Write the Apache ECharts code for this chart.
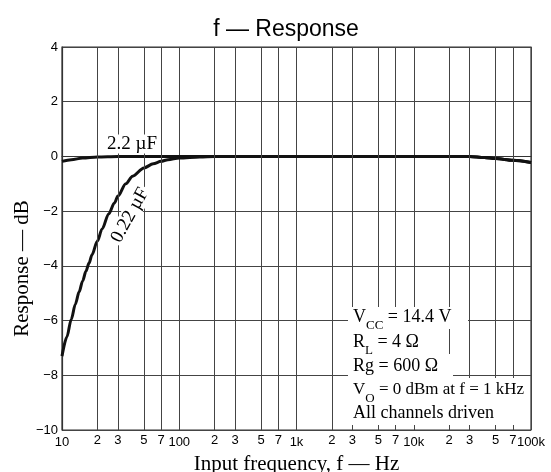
<!DOCTYPE html>
<html>
<head>
<meta charset="utf-8">
<script src="https://cdn.jsdelivr.net/npm/echarts@6/dist/echarts.min.js"></script>
<style>html,body{margin:0;padding:0;background:#fff}#c{width:551px;height:472px}</style>
</head>
<body>
<div id="c"></div>
<script>
// ---- data ----
const freqSmall = [10, 11, 12, 13, 14, 15, 16, 17, 18, 20, 22, 25, 28, 30, 35, 40, 50, 60, 70, 80, 100, 150, 200, 1000, 10000, 30000, 40000, 50000, 70000, 100000];
const respSmall = [-7.3, -6.6, -5.95, -5.4, -4.95, -4.55, -4.2, -3.9, -3.6, -3.1, -2.65, -2.1, -1.7, -1.45, -1.0, -0.72, -0.42, -0.27, -0.18, -0.12, -0.06, -0.02, 0, 0, 0, 0, -0.04, -0.08, -0.14, -0.22];
const freqLarge = [10, 12, 15, 20, 30, 100, 1000, 10000, 30000, 40000, 50000, 70000, 100000];
const respLarge = [-0.18, -0.12, -0.06, -0.02, 0, 0, 0, 0, 0, -0.04, -0.08, -0.14, -0.22];
const decades = [10, 100, 1000, 10000, 100000];
const decadeLabels = ['10', '100', '1k', '10k', '100k'];
const minorDigits = [2, 3, 5, 7];
const seriesNames = ['2.2 µF', '0.22 µF'];
const notes = ['V{s|CC} = 14.4 V', 'R{s|L} = 4 Ω', 'Rg = 600 Ω', 'V{s|O} = 0 dBm at f = 1 kHz', 'All channels driven'];

const SERIF = 'Liberation Serif';
const SANS = 'Liberation Sans';
const GRID = '#444';

const minorVals = [];
decades.slice(0, -1).forEach(d => minorDigits.forEach(m => minorVals.push({ v: d * m, label: String(m) })));

const chart = echarts.init(document.getElementById('c'));
const option = {
  animation: false,
  backgroundColor: '#fff',
  title: {
    text: 'f — Response', left: 281, top: 13, textAlign: 'center',
    textStyle: { fontFamily: SANS, fontSize: 23, fontWeight: 'normal', color: '#000' }
  },
  grid: { left: 62, right: 20, top: 47, bottom: 42, show: true, borderColor: '#333', borderWidth: 1.2, containLabel: false, outerBoundsMode: 'none' },
  xAxis: {
    type: 'log', logBase: 10, min: 10, max: 100000,
    name: 'Input frequency, f — Hz', nameLocation: 'middle', nameGap: 23,
    nameTextStyle: { fontFamily: SERIF, fontSize: 21, color: '#000' },
    axisLine: { show: true, lineStyle: { color: '#333', width: 1.2 } },
    axisTick: { show: false },
    axisLabel: {
      margin: 6, fontFamily: SANS, fontSize: 13, color: '#000',
      formatter: v => { const i = decades.findIndex(d => Math.abs(d - v) / d < 1e-6); return i >= 0 ? decadeLabels[i] : ''; }
    },
    splitLine: { show: true, lineStyle: { color: GRID, width: 1 } },
    minorTick: { show: false }, minorSplitLine: { show: false }
  },
  yAxis: {
    type: 'value', min: -10, max: 4, interval: 2,
    name: 'Response — dB', nameLocation: 'middle', nameGap: 29, nameRotate: 90, nameMoveOverlap: false,
    nameTextStyle: { fontFamily: SERIF, fontSize: 21, color: '#000', padding: [0, 60, 0, 0] },
    axisLine: { show: true, lineStyle: { color: '#333', width: 1.2 } },
    axisTick: { show: false },
    axisLabel: {
      margin: 4, fontFamily: SANS, fontSize: 13, color: '#000', padding: [4, 0, 0, 0],
      formatter: v => (v < 0 ? '−' + Math.abs(v) : String(v))
    },
    splitLine: { show: true, lineStyle: { color: GRID, width: 1 } }
  },
  series: [
    {
      type: 'line', data: [], z: 1, silent: true,
      markLine: {
        symbol: 'none', silent: true, animation: false,
        lineStyle: { color: GRID, width: 1, type: 'solid' },
        label: { show: true, position: 'start', distance: 4, fontFamily: SANS, fontSize: 13, color: '#000' },
        data: minorVals.map(m => ({ xAxis: m.v, label: { formatter: m.label } }))
      }
    },
    {
      name: seriesNames[0], type: 'line', z: 3, showSymbol: false, smooth: 0.3, smoothMonotone: 'x',
      lineStyle: { color: '#111', width: 3 },
      data: freqLarge.map((f, i) => [f, respLarge[i]]),
      markPoint: {
        symbol: 'circle', symbolSize: 0, silent: true,
        label: {
          show: true, formatter: seriesNames[0], fontFamily: SERIF, fontSize: 19, color: '#000',
          backgroundColor: '#fff', padding: [0, 3], position: 'inside'
        },
        data: [{ coord: [39.5, 0.45] }]
      }
    },
    {
      name: seriesNames[1], type: 'line', z: 3, showSymbol: false, smooth: 0.3, smoothMonotone: 'x',
      lineStyle: { color: '#111', width: 3 },
      data: freqSmall.map((f, i) => [f, respSmall[i]]),
      markPoint: {
        symbol: 'circle', symbolSize: 0, silent: true,
        label: {
          show: true, formatter: seriesNames[1], fontFamily: SERIF, fontSize: 19, color: '#000',
          backgroundColor: '#fff', padding: [0, 2], rotate: 61, position: 'inside'
        },
        data: [{ coord: [38, -2.15] }]
      }
    }
  ]
};

const rich = { s: { fontFamily: SERIF, fontSize: 13, verticalAlign: 'bottom', lineHeight: 22, padding: [0, 0, -4, 0] } };
const noteY = [317, 342, 366, 390, 413];
const noteSize = [18, 18, 18, 17, 18];
const graphics = [
  { type: 'rect', z: 50, shape: { x: 348, y: 307, width: 120, height: 22 }, style: { fill: '#fff' } },
  { type: 'rect', z: 50, shape: { x: 348, y: 329, width: 96, height: 26 }, style: { fill: '#fff' } },
  { type: 'rect', z: 50, shape: { x: 348, y: 354, width: 105, height: 24 }, style: { fill: '#fff' } },
  { type: 'rect', z: 50, shape: { x: 348, y: 378, width: 182, height: 47 }, style: { fill: '#fff' } }
];
notes.forEach((t, i) => graphics.push({
  type: 'text', z: 60, left: 353, top: noteY[i] - 11,
  style: { text: t, fontFamily: SERIF, fontSize: noteSize[i], fill: '#000', lineHeight: 22, rich: rich }
}));
option.graphic = graphics;
chart.setOption(option);
</script>
</body>
</html>
